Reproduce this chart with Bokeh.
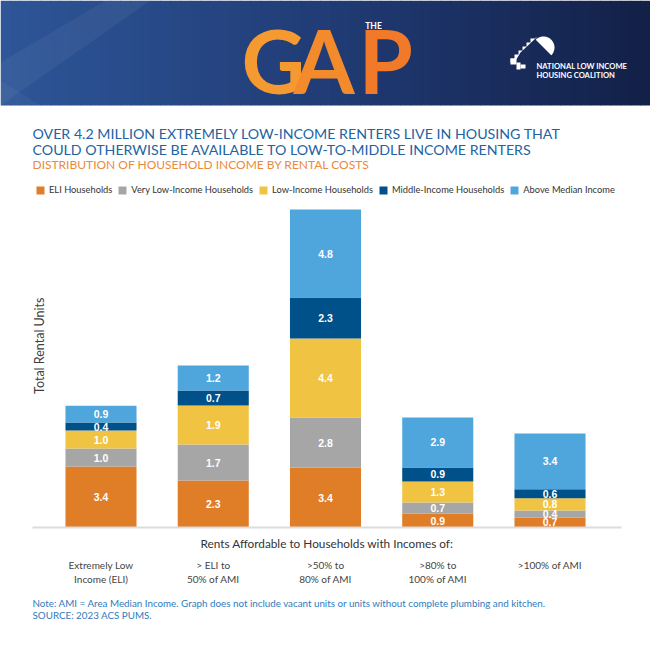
import numpy as np
from bokeh.plotting import figure
from bokeh.layouts import column
from bokeh.models import Range1d, Legend, LegendItem, ColumnDataSource, Label
from bokeh.core.properties import value
from bokeh.embed import file_html
from bokeh.resources import INLINE

# ---------------- data ----------------
categories = ["Extremely Low\nIncome (ELI)", "> ELI to\n50% of AMI", ">50% to\n80% of AMI",
              ">80% to\n100% of AMI", ">100% of AMI"]
series_names = ["ELI Households", "Very Low-Income Households", "Low-Income Households",
                "Middle-Income Households", "Above Median Income"]
# printed segment values (millions of renter households)
eli_labels = [3.4, 2.3, 3.4, 0.9, 0.7]
vli_labels = [1.0, 1.7, 2.8, 0.7, 0.4]
li_labels = [1.0, 1.9, 4.4, 1.3, 0.8]
mi_labels = [0.4, 0.7, 2.3, 0.9, 0.6]
ami_labels = [0.9, 1.2, 4.8, 2.9, 3.4]
# segment heights as drawn in the picture (same units)
eli_h = [3.39, 2.61, 3.33, 0.78, 0.56]
vli_h = [1.00, 2.00, 2.78, 0.61, 0.39]
li_h = [1.00, 2.17, 4.39, 1.17, 0.67]
mi_h = [0.44, 0.83, 2.28, 0.78, 0.50]
ami_h = [0.94, 1.39, 4.89, 2.78, 3.11]
colors = ["#e07d27", "#a6a6a6", "#f0c343", "#00508a", "#4fa6dd"]

title_1 = "OVER 4.2 MILLION EXTREMELY LOW-INCOME RENTERS LIVE IN HOUSING THAT"
title_2 = "COULD OTHERWISE BE AVAILABLE TO LOW-TO-MIDDLE INCOME RENTERS"
subtitle = "DISTRIBUTION OF HOUSEHOLD INCOME BY RENTAL COSTS"
y_title = "Total Rental Units"
x_title = "Rents Affordable to Households with Incomes of:"
note_1 = "Note: AMI = Area Median Income. Graph does not include vacant units or units without complete plumbing and kitchen."
note_2 = "SOURCE: 2023 ACS PUMS."

FONT = "Lato"


def blank(height, x_range, y_range):
    f = figure(width=650, height=height, x_range=x_range, y_range=y_range,
               output_backend="svg", toolbar_location=None,
               x_axis_location=None, y_axis_location=None, min_border=0)
    f.grid.visible = False
    f.outline_line_color = None
    f.background_fill_color = "white"
    f.border_fill_color = "white"
    return f


# ---------------- header band + titles ----------------
h = blank(175, Range1d(0, 650), Range1d(175, 0))
n = 65
lefts = np.linspace(0, 650, n + 1)[:-1]
c0 = np.array([46, 86, 152])
c1 = np.array([33, 60, 118])
c2 = np.array([19, 33, 72])
cols = []
for tt in np.linspace(0, 1, n):
    if tt < 0.5:
        c = c0 + (c1 - c0) * (tt / 0.5)
    else:
        c = c1 + (c2 - c1) * ((tt - 0.5) / 0.5)
    cols.append("#%02x%02x%02x" % tuple(int(v) for v in c))
h.quad(left=lefts, right=lefts + 650 / n + 0.6, top=0, bottom=105, fill_color=cols, line_color=None)
h.patch([0, 0, 105, 150], [105, 62, 0, 0], fill_color="white", fill_alpha=0.05, line_color=None)
h.patch([0, 0, 40], [105, 80, 105], fill_color="white", fill_alpha=0.04, line_color=None)

# GAP logo
for letter, lx, col in [("G", 241, "#f49a30"), ("A", 293, "#f38a2c"), ("P", 358, "#f07a2a")]:
    h.text(x=[lx], y=[59], text=[letter], text_font=value(FONT), text_font_style="bold",
           text_font_size="88px", text_color=col, text_baseline="middle", text_align="left")
h.text(x=[373], y=[25], text=["THE"], text_font=value(FONT), text_font_style="bold",
       text_font_size="8.5px", text_color="white", text_baseline="middle", text_align="center")

# NLIHC mark
px = [510]
py = [62]
for (a, b) in [(512, 58), (516, 54), (520, 50), (524, 46), (528, 42), (532, 38)]:
    px += [a - 2, a - 2, a + 2]
    py += [b + 4, b, b]
px += [537, 520, 514]
py += [36, 52, 62]
h.patch(px, py, fill_color="white", line_color=None)
ang = np.linspace(-np.pi * 0.75, np.pi * 0.25, 40)
h.patch(list(543 + 11 * np.cos(ang)), list(47 + 11 * np.sin(ang)), fill_color="white", line_color=None)
h.quad(left=[510, 516, 520], right=[516, 520, 525], top=[58, 62, 64], bottom=[64, 69, 68],
       fill_color="white", line_color=None)
h.text(x=[536, 536], y=[65, 74], text=["NATIONAL LOW INCOME", "HOUSING COALITION"],
       text_font=value(FONT), text_font_style="bold", text_font_size="7.6px", text_color="white",
       text_baseline="middle", text_align="left")

h.text(x=[32, 32], y=[133, 149], text=[title_1, title_2], text_font=value(FONT),
       text_font_size="14.2px", text_color="#2264a2", text_baseline="middle", text_align="left")
h.text(x=[32], y=[164], text=[subtitle], text_font=value(FONT), text_font_size="12px",
       text_color="#ea8a3c", text_baseline="middle", text_align="left")

# ---------------- chart ----------------
xs = [1, 2, 3, 4, 5]
stack_keys = ["eli", "vli", "li", "mi", "ami"]
heights = [eli_h, vli_h, li_h, mi_h, ami_h]
labels = [eli_labels, vli_labels, li_labels, mi_labels, ami_labels]
src = ColumnDataSource(dict(x=xs, **{k: v for k, v in zip(stack_keys, heights)}))

x_rng = Range1d(0.1047, 5.8953)
axis_lo, axis_hi = 0.39, 5.637
p = blank(354, x_rng, Range1d(-0.11, 19.56))
rs = p.vbar_stack(stack_keys, x="x", width=0.633, source=src, fill_color=colors, line_color=None)

bottom = np.zeros(len(xs))
for hh, lab in zip(heights, labels):
    hh = np.array(hh)
    p.text(x=xs, y=bottom + hh / 2, text=["%.1f" % v for v in lab], text_color="white",
           text_font=value("Liberation Sans"), text_font_style="bold", text_font_size="10.5px",
           text_align="center", text_baseline="middle")
    bottom = bottom + hh

p.segment(x0=[axis_lo], x1=[axis_hi], y0=[0], y1=[0], line_color="#dcdcdc", line_width=2)
p.add_layout(Label(x=0.4477, y=10.1, text=y_title, angle=np.pi / 2, text_align="center",
                   text_baseline="middle", text_font=FONT, text_font_size="12.5px",
                   text_color="#404040"))

legend = Legend(items=[LegendItem(label=nm, renderers=[r]) for nm, r in zip(series_names, rs)],
                orientation="horizontal", location=(35, 334), padding=0, margin=0, spacing=5,
                glyph_width=10, glyph_height=10, label_standoff=4, label_height=10,
                label_text_font=FONT, label_text_font_size="9.3px", label_text_color="#333333",
                border_line_color=None, background_fill_alpha=0)
p.add_layout(legend)

# ---------------- axis titles, categories, notes ----------------
b = blank(121, x_rng, Range1d(121, 0))
b.text(x=[(axis_lo + axis_hi) / 2], y=[14], text=[x_title], text_font=value(FONT),
       text_font_size="11.8px", text_color="#333333", text_align="center", text_baseline="middle")
b.text(x=xs, y=[29] * 5, text=categories, text_font=value(FONT), text_font_size="10px",
       text_color="#444444", text_align="center", text_baseline="top", text_line_height=1.2)
b.text(x=[axis_lo, axis_lo], y=[73, 85], text=[note_1, note_2], text_font=value(FONT),
       text_font_size="9.8px", text_color="#2f7bbd", text_align="left", text_baseline="middle")

page = column(h, p, b, spacing=0)
html = file_html(page, INLINE)
html = html.replace("<head>", "<head><style>html,body{margin:0;padding:0;overflow:hidden}</style>", 1)
open("out.html", "w").write(html)
